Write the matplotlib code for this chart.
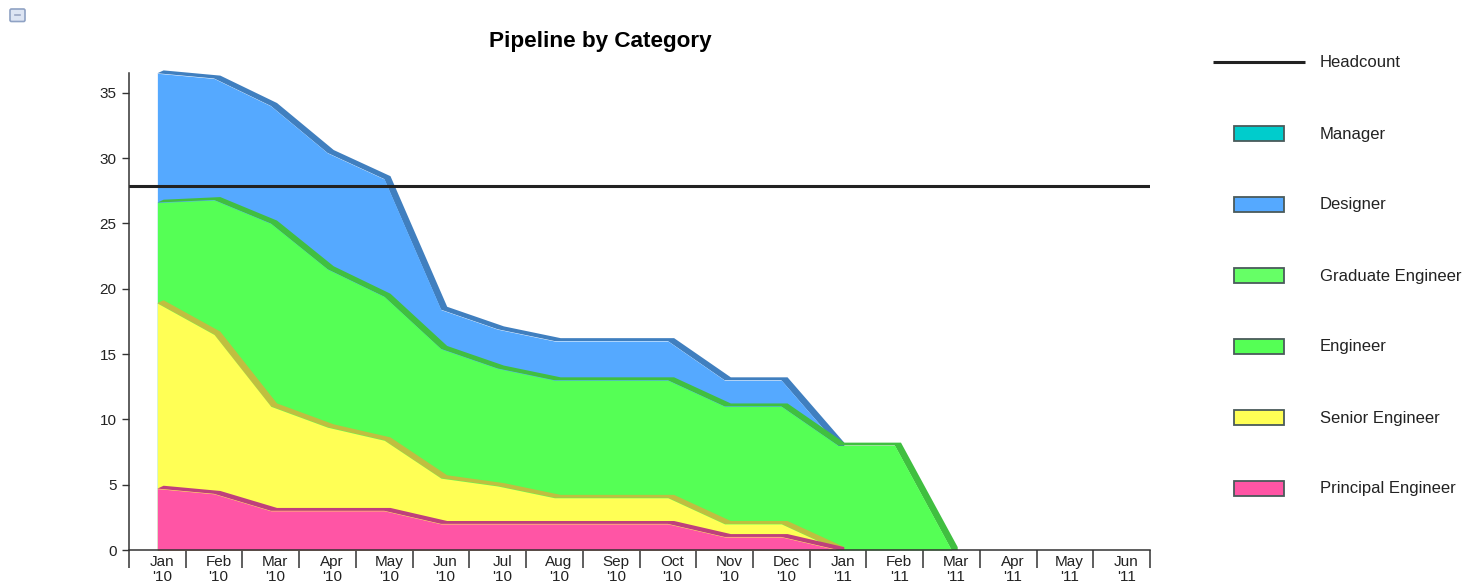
import numpy as np
import matplotlib
matplotlib.use('Agg')
import matplotlib.pyplot as plt
from matplotlib.colors import to_rgb
from matplotlib.patches import FancyBboxPatch, Rectangle

plt.rcParams['font.family'] = ['Liberation Sans', 'DejaVu Sans']

months = ["Jan\n'10", "Feb\n'10", "Mar\n'10", "Apr\n'10", "May\n'10", "Jun\n'10",
          "Jul\n'10", "Aug\n'10", "Sep\n'10", "Oct\n'10", "Nov\n'10", "Dec\n'10",
          "Jan\n'11", "Feb\n'11", "Mar\n'11", "Apr\n'11", "May\n'11", "Jun\n'11"]

principal = [4.7, 4.3, 3, 3, 3, 2, 2, 2, 2, 2, 1, 1, 0, 0, 0, 0, 0, 0]
senior = [14.2, 12.2, 8, 6.4, 5.4, 3.5, 2.9, 2, 2, 2, 1, 1, 0, 0, 0, 0, 0, 0]
engineer = [7.7, 10.3, 14, 12.1, 11, 9.9, 9, 9, 9, 9, 9, 9, 8, 8, 0, 0, 0, 0]
graduate = [0] * 18
designer = [9.9, 9.3, 9, 8.9, 9, 3, 3, 3, 3, 3, 2, 2, 0, 0, 0, 0, 0, 0]
manager = [0] * 18
headcount = 27.9

# bottom of the stack first
names = ['Principal Engineer', 'Senior Engineer', 'Engineer', 'Graduate Engineer', 'Designer', 'Manager']
series = [principal, senior, engineer, graduate, designer, manager]
colors = ['#FF55A5', '#FFFF55', '#55FF55', '#66FF66', '#55A9FF', '#00CCCC']

W, H = 1466, 586
fig = plt.figure(figsize=(W / 100, H / 100), dpi=100)
ax = fig.add_axes([129 / W, (H - 550) / H, (1150 - 129) / W, (550 - 73) / H])
ax.set_xlim(-0.5, 17.5)
ax.set_ylim(0, 36.52)

x = np.arange(len(months))
totals = np.cumsum(np.array(series, dtype=float), axis=0)

# depth of the extruded top edge, in data units
dx, dy = 0.11, 0.22

# top of the stack is painted first so the lower layers sit over it
for i in range(len(series) - 1, -1, -1):
    values = np.array(series[i], dtype=float)
    if values.max() == 0:
        continue
    end = np.nonzero(values == 0)[0][0]
    xs = x[:end + 1]
    ys = totals[i][:end + 1]
    dark = tuple(c * 0.75 for c in to_rgb(colors[i]))
    strip_x = np.concatenate([xs, [xs[-1] + dx], (xs + dx)[::-1]])
    strip_y = np.concatenate([ys, [0], (ys + dy)[::-1]])
    ax.fill(strip_x, strip_y, color=dark, lw=0, clip_on=False, zorder=2)
    ax.fill_between(xs, 0, ys, color=colors[i], lw=0, zorder=2)

ax.axhline(headcount, color='#222222', lw=2.2, zorder=3)

for side in ['top', 'right']:
    ax.spines[side].set_visible(False)
for side in ['left', 'bottom']:
    ax.spines[side].set_color('#333333')
    ax.spines[side].set_linewidth(1.1)
    ax.spines[side].set_zorder(4)

ax.set_yticks(range(0, 36, 5))
ax.tick_params(axis='y', length=5, width=1, color='#333333', labelcolor='#222222', labelsize=11, pad=4)

# separators between the months, labels sit under each month
ax.set_xticks(np.arange(-0.5, 18, 1))
ax.set_xticklabels([])
ax.tick_params(axis='x', which='major', length=13, width=1.1, color='#333333')
ax.set_xticks(x + 0.08, minor=True)
ax.set_xticklabels(months, minor=True, fontsize=11, color='#222222', linespacing=1.1)
ax.tick_params(axis='x', which='minor', length=0, pad=3.5)

fig.text(600.5 / W, 1 - 41 / H, 'Pipeline by Category', fontsize=16.2, fontweight='bold',
         ha='center', va='center', color='black')

# legend and the small button live on a pixel-sized overlay
over = fig.add_axes([0, 0, 1, 1], facecolor='none')
over.set_xlim(0, W)
over.set_ylim(H, 0)
over.axis('off')

over.plot([1213, 1305], [61.5, 61.5], color='#222222', lw=2.2, solid_capstyle='butt')
over.text(1320, 62.5, 'Headcount', fontsize=12, va='center', color='#222222')

for row, i in enumerate(range(len(names) - 1, -1, -1)):
    yc = 133 + row * 71
    over.add_patch(Rectangle((1234, yc - 7.5), 50, 15, facecolor=colors[i], edgecolor='#4a5a5a', lw=1.3))
    over.text(1320, yc + 1, names[i], fontsize=12, va='center', color='#222222')

over.add_patch(FancyBboxPatch((10, 9), 15, 12.5, boxstyle='round,pad=0,rounding_size=1.5',
                              facecolor='#dde5f3', edgecolor='#8fa2c4', lw=1.2))
over.plot([15, 20], [15, 15], color='#9aa7c4', lw=1.2)

fig.savefig('out.png', dpi=100, facecolor='white')
